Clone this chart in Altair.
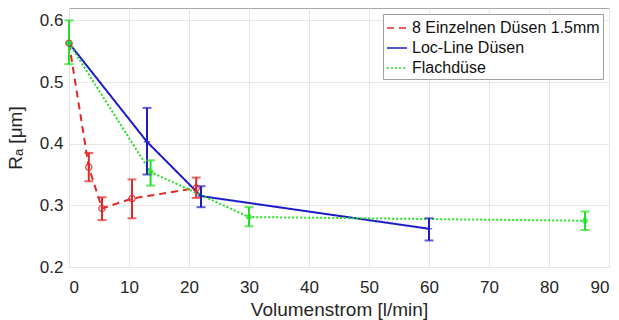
import altair as alt
import pandas as pd

series_names = ["8 Einzelnen Düsen 1.5mm", "Loc-Line Düsen", "Flachdüse"]
colors = ["#e02828", "#1c1cc8", "#22e022"]

red_x = [0, 3.3, 5.5, 10.5, 21.2]
red_y = [0.563, 0.362, 0.295, 0.311, 0.328]
red_lo = [0.563, 0.339, 0.276, 0.279, 0.312]
red_hi = [0.563, 0.385, 0.313, 0.342, 0.345]

blue_x = [0, 13, 22, 60]
blue_y = [0.563, 0.403, 0.315, 0.262]
blue_lo = [0.563, 0.350, 0.297, 0.243]
blue_hi = [0.563, 0.458, 0.331, 0.279]

green_x = [0, 13.6, 30, 86]
green_y = [0.563, 0.354, 0.281, 0.275]
green_lo = [0.529, 0.332, 0.266, 0.260]
green_hi = [0.600, 0.373, 0.297, 0.290]

marker_shapes = ["circle", "M-1,0L1,0M0,-1L0,1",
                 "M-1,0L1,0M0,-1L0,1M-0.7,-0.7L0.7,0.7M-0.7,0.7L0.7,-0.7"]

rows = []
for name, xs, ys, los, his in [
    (series_names[0], red_x, red_y, red_lo, red_hi),
    (series_names[1], blue_x, blue_y, blue_lo, blue_hi),
    (series_names[2], green_x, green_y, green_lo, green_hi),
]:
    for i, (x, y, lo, hi) in enumerate(zip(xs, ys, los, his)):
        rows.append({"series": name, "x": x, "y": y, "lo": lo, "hi": hi,
                     "order": i, "has_err": hi > lo})
df = pd.DataFrame(rows)

font = "Liberation Sans"
color_scale = alt.Scale(domain=series_names, range=colors)
xs = alt.Scale(domain=[0, 90], nice=False)
ys = alt.Scale(domain=[0.2, 0.62], nice=False)

x_enc = alt.X("x:Q", scale=xs, title="Volumenstrom [l/min]",
              axis=alt.Axis(values=list(range(0, 91, 10)), format="d"))
y_enc = alt.Y("y:Q", scale=ys, title="Rₐ [μm]",
              axis=alt.Axis(values=[0.2, 0.3, 0.4, 0.5, 0.6], format=".1f"))

legend = alt.Legend(title=None, orient="none", legendX=314, legendY=6,
                    symbolType="stroke", symbolSize=400, symbolStrokeWidth=1.5,
                    labelFont=font, labelFontSize=16, labelColor="#111", labelLimit=0,
                    strokeColor="#a0a0a0", fillColor="white", padding=3,
                    rowPadding=1, labelOffset=4)

base = alt.Chart(df)

lines = base.mark_line(strokeWidth=2).encode(
    x=x_enc, y=y_enc,
    color=alt.Color("series:N", scale=color_scale, sort=series_names, legend=legend),
    strokeDash=alt.StrokeDash("series:N", sort=series_names,
                              scale=alt.Scale(domain=series_names, range=[[7, 5], [1, 0], [2, 2]]),
                              legend=legend),
    order="order:Q",
)

err_base = base.transform_filter("datum.has_err")
err = err_base.mark_rule(strokeWidth=2).encode(
    x="x:Q", y=alt.Y("lo:Q", scale=ys), y2="hi:Q",
    color=alt.Color("series:N", scale=color_scale, legend=None),
)
cap_lo = err_base.mark_tick(orient="horizontal", size=9, thickness=2).encode(
    x="x:Q", y=alt.Y("lo:Q", scale=ys),
    color=alt.Color("series:N", scale=color_scale, legend=None),
)
cap_hi = err_base.mark_tick(orient="horizontal", size=9, thickness=2).encode(
    x="x:Q", y=alt.Y("hi:Q", scale=ys),
    color=alt.Color("series:N", scale=color_scale, legend=None),
)

point_layers = []
for name, shp in zip(series_names, marker_shapes):
    point_layers.append(
        base.transform_filter(alt.datum.series == name)
        .mark_point(filled=False, strokeWidth=1.2, size=40, opacity=0.9, shape=shp)
        .encode(x="x:Q", y="y:Q",
                color=alt.Color("series:N", scale=color_scale, legend=None))
    )

chart = alt.layer(lines, err, cap_lo, cap_hi, *point_layers).properties(
    width=540, height=259,
    autosize=alt.AutoSizeParams(type="none"),
    padding={"left": 69, "top": 8, "right": 10, "bottom": 53},
).configure_view(stroke="#a8a8a8", strokeWidth=1).configure_axis(
    grid=True, gridColor="#e6e6e6", gridWidth=1, domain=False, ticks=False,
    labelFont=font, labelFontSize=17, labelColor="#262626",
    titleFont=font, titleFontSize=19, titleFontWeight="normal", titleColor="#262626",
).configure_axisX(labelPadding=12, titlePadding=5).configure_axisY(labelPadding=6, titlePadding=14)

chart.save("out.html", embed_options={"renderer": "svg", "actions": False})
